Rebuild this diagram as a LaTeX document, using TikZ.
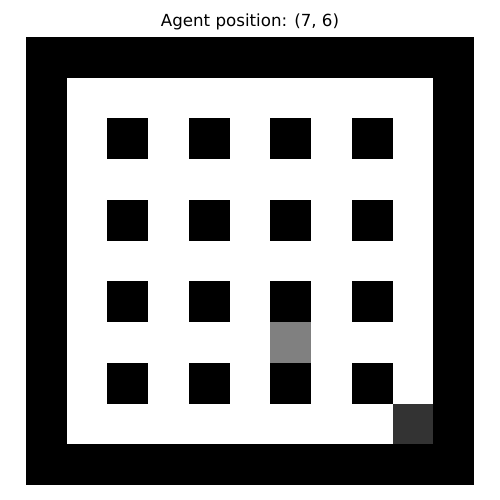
\documentclass[tikz,border=0pt]{standalone}
\usepackage{fontspec}
\setmainfont{DejaVu Sans}
\definecolor{agentgray}{gray}{0.5}
\definecolor{goalgray}{gray}{0.2}
\begin{document}
\begin{tikzpicture}[x=0.72pt,y=-0.72pt,
  cellblack/.style={fill=black},
  cellwhite/.style={fill=white},
  cellagent/.style={fill=agentgray},
  cellgoal/.style={fill=goalgray}]
\useasboundingbox (0,0) rectangle (500,500);
\fill[white] (0,0) rectangle (500,500);
\def\cs{40.727}
\def\ox{26}
\def\oy{37}
% outer black frame
\fill[cellblack] (\ox,\oy) rectangle ({\ox+11*\cs},{\oy+11*\cs});
% inner white area
\fill[cellwhite] ({\ox+\cs},{\oy+\cs}) rectangle ({\ox+10*\cs},{\oy+10*\cs});
% black obstacle blocks
\foreach \r in {2,4,6,8}{
  \foreach \c in {2,4,6,8}{
    \fill[cellblack] ({\ox+\c*\cs},{\oy+\r*\cs}) rectangle ({\ox+(\c+1)*\cs},{\oy+(\r+1)*\cs});
  }
}
% agent
\fill[cellagent] ({\ox+6*\cs},{\oy+7*\cs}) rectangle ({\ox+7*\cs},{\oy+8*\cs});
% goal
\fill[cellgoal] ({\ox+9*\cs},{\oy+9*\cs}) rectangle ({\ox+10*\cs},{\oy+10*\cs});
\node[font=\fontsize{12}{14}\selectfont, inner sep=0pt] (title) at (250,22) {Agent position: (7, 6)};
\end{tikzpicture}
\end{document}
